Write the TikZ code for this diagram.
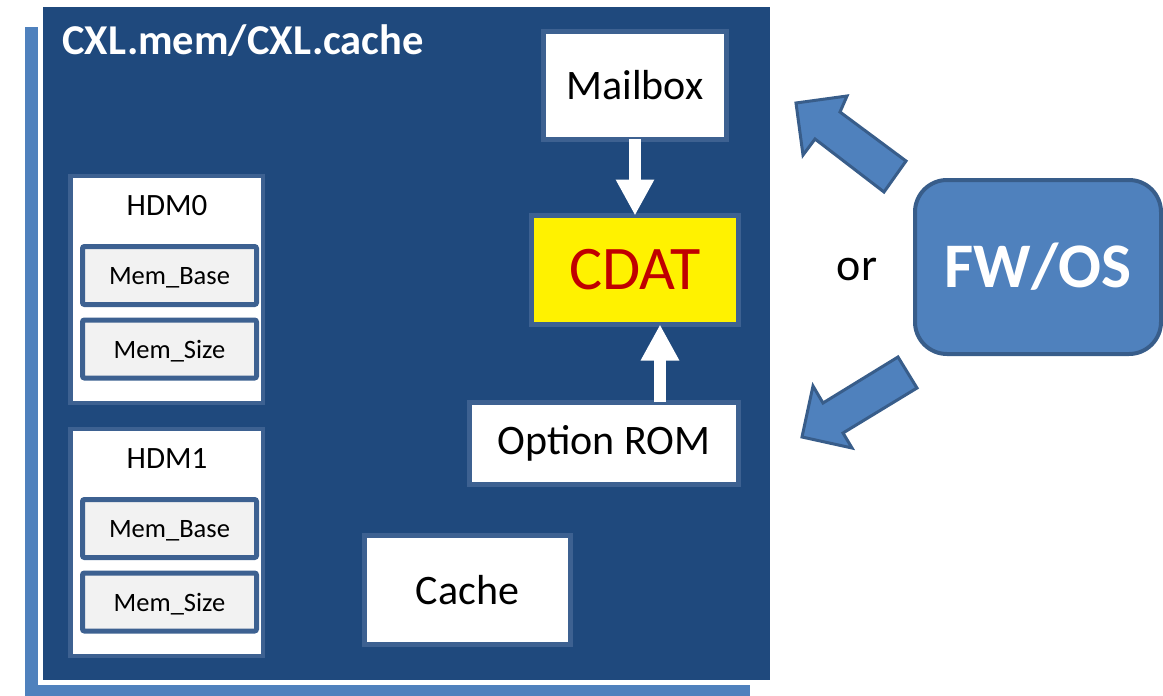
\documentclass[tikz,border=0pt]{standalone}
\usepackage{fontspec}
\setmainfont{Carlito}
\usetikzlibrary{arrows.meta}
\definecolor{darkbg}{HTML}{1F497D}
\definecolor{lightbg}{HTML}{4F81BD}
\definecolor{frame}{HTML}{3D6191}
\definecolor{membox}{HTML}{F2F2F2}
\definecolor{arrowedge}{HTML}{385D8A}
\definecolor{cdatred}{HTML}{C00000}
\begin{document}
\begin{tikzpicture}[x=1pt,y=-1pt,
  whitebox/.style={draw=frame,line width=5pt,fill=white,inner sep=0pt,outer sep=0pt,font=\fontsize{42}{50}\selectfont},
  memfield/.style={draw=frame,line width=5pt,fill=membox,rounded corners=2pt,minimum width=174pt,minimum height=58pt,inner sep=0pt,outer sep=0pt,text depth=0pt,font=\fontsize{26.5}{32}\selectfont},
  hdmbox/.style={draw=frame,line width=4.5pt,fill=white,minimum width=192.5pt,minimum height=227pt,inner sep=0pt,outer sep=0pt},
  hdmtitle/.style={font=\fontsize{31}{37}\selectfont,inner sep=0pt},
  whitearrow/.style={draw=white,line width=12pt,-{Triangle[width=36pt,length=36pt]}},
  blockarrow/.style={fill=lightbg,draw=arrowedge,line width=3pt}
]
\useasboundingbox (0,0) rectangle (1163,696);
% background frames
\fill[lightbg] (25,27) rectangle (750,696);
\fill[white] (38,2) rectangle (775,685);
\fill[darkbg] (43,7) rectangle (770,680);
\node[anchor=base west,inner sep=0pt,text=white,font=\fontsize{42.5}{50}\selectfont\bfseries] (title) at (62,54) {CXL.mem/CXL.cache};

% HDM0
\node[hdmbox] (hdm0) at (166.75,289.5) {};
\node[hdmtitle] (hdm0t) at (167,206) {HDM0};
\node[memfield] (hdm0base) at (169.5,275.5) {Mem\_Base};
\node[memfield] (hdm0size) at (169.5,349) {Mem\_Size};
% HDM1
\node[hdmbox] (hdm1) at (166.75,542.5) {};
\node[hdmtitle] (hdm1t) at (167,459) {HDM1};
\node[memfield] (hdm1base) at (169.5,528.5) {Mem\_Base};
\node[memfield] (hdm1size) at (169.5,602) {Mem\_Size};

% right column
\node[whitebox,minimum width=183pt,minimum height=107.5pt] (mailbox) at (635,85.25) {Mailbox};
\node[whitebox,fill=yellow,text=cdatred,minimum width=207pt,minimum height=109pt,font=\fontsize{62}{72}\selectfont] (cdat) at (635,270) {CDAT};
\node[whitebox,minimum width=269pt,minimum height=82pt] (optrom) at (604,443) {Option ROM};
\node[whitebox,minimum width=206pt,minimum height=109pt] (cache) at (467.5,590) {Cache};

\draw[whitearrow] (mailbox.south) -- (cdat.north);
\coordinate (romup) at ([xshift=25pt]cdat.south);
\draw[whitearrow] (optrom.north -| romup) -- (romup);

% FW/OS
\node[fill=lightbg,draw=arrowedge,line width=4pt,rounded corners=32pt,minimum width=246pt,minimum height=174pt,inner sep=0pt,outer sep=0pt,text=white,font=\fontsize{63.5}{75}\selectfont\bfseries] (fwos) at (1038,267) {FW/OS};
\node[inner sep=0pt,font=\fontsize{46}{55}\selectfont] (or) at (857,269) {or};

% block arrows
\draw[blockarrow] (796,103) -- (847,96) -- (840,112) -- (906,161) -- (884,192) -- (815,139) -- (803,155) -- cycle;
\draw[blockarrow] (802,437) -- (852,448) -- (843,433) -- (917,388) -- (898,357) -- (823,403) -- (813,386) -- cycle;
\end{tikzpicture}
\end{document}
